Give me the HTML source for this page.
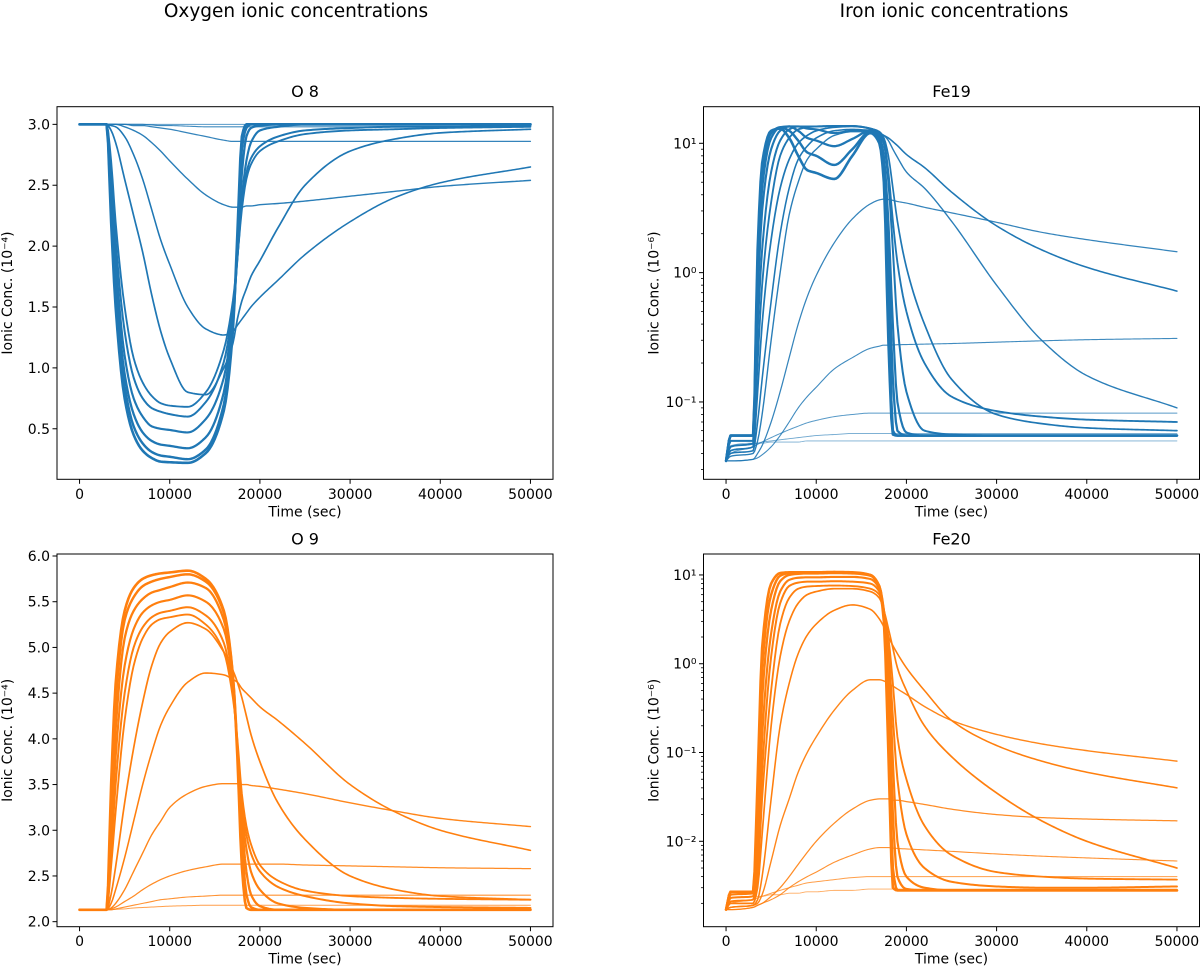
<!DOCTYPE html>
<html><head><meta charset="utf-8">
<style>
html,body{margin:0;padding:0;background:#fff;}
svg{display:block;font-family:"DejaVu Sans","Liberation Sans",sans-serif;}
</style></head>
<body>
<svg id="fig" width="1200" height="973" viewBox="0 0 1200 973" xmlns="http://www.w3.org/2000/svg">
<text x="296" y="17" font-size="18.5" text-anchor="middle">Oxygen ionic concentrations</text>
<text x="954" y="17" font-size="18.5" text-anchor="middle">Iron ionic concentrations</text>
</svg>
<script>
const T = [0,500,3000,3500,4000,5000,6000,7000,8000,9000,10000,12000,14000,16000,17000,17500,18000,18500,19000,20000,22000,25000,30000,35000,40000,50000];
const xTicks = [0,10000,20000,30000,40000,50000];
const o8Ticks = [0.5,1.0,1.5,2.0,2.5,3.0];
const o9Ticks = [2.0,2.5,3.0,3.5,4.0,4.5,5.0,5.5,6.0];
const fe19Ticks = [-1,0,1];
const fe20Ticks = [-2,-1,0,1];

const o8 = [
[3,3,3,2.2,1.5,0.75,0.45,0.32,0.26,0.23,0.225,0.22,0.3,0.65,1.3,2.1,2.9,3.0,3.0,3,3,3,3,3,3,3],
[3,3,3,2.3,1.6,0.85,0.52,0.38,0.31,0.28,0.27,0.25,0.33,0.7,1.35,2.0,2.8,2.97,3.0,3,3,3,3,3,3,3],
[3,3,3,2.4,1.75,0.95,0.62,0.47,0.4,0.37,0.36,0.34,0.43,0.8,1.4,1.95,2.6,2.9,2.97,2.99,3,3,3,3,3,3],
[3,3,3,2.5,1.9,1.1,0.75,0.6,0.52,0.5,0.49,0.47,0.58,0.92,1.45,1.9,2.4,2.7,2.85,2.95,2.98,3,3,3,3,3],
[3,3,3,2.6,2.05,1.3,0.92,0.75,0.67,0.64,0.62,0.6,0.72,1.05,1.5,1.9,2.35,2.6,2.72,2.82,2.9,2.95,2.97,2.98,2.98,2.99],
[3,3,3,2.7,2.2,1.5,1.08,0.88,0.77,0.71,0.69,0.68,0.8,1.15,1.55,1.9,2.3,2.55,2.67,2.78,2.86,2.92,2.95,2.96,2.97,2.98],
[3,3,3,2.95,2.85,2.55,2.25,1.95,1.6,1.3,1.08,0.8,0.78,1.0,1.2,1.4,1.55,1.65,1.75,1.88,2.15,2.5,2.78,2.88,2.93,2.96],
[3,3,3,2.99,2.98,2.9,2.75,2.55,2.3,2.05,1.85,1.5,1.32,1.27,1.3,1.35,1.4,1.45,1.5,1.58,1.72,1.93,2.2,2.4,2.52,2.65],
[3,3,3,3,3,2.98,2.95,2.91,2.85,2.78,2.7,2.55,2.42,2.34,2.32,2.32,2.32,2.33,2.33,2.34,2.35,2.37,2.41,2.45,2.49,2.54],
[3,3,3,3,3,3,2.99,2.99,2.98,2.97,2.96,2.93,2.9,2.87,2.86,2.86,2.86,2.86,2.86,2.86,2.86,2.86,2.86,2.86,2.86,2.86],
[3,3,3,3,3,3,3,3,2.995,2.99,2.99,2.985,2.98,2.98,2.98,2.98,2.98,2.98,2.98,2.98,2.98,2.98,2.98,2.98,2.98,2.98],
[3,3,3,3,3,3,3,3,3,3,3,3,3,3,3,3,3,3,3,3,3,3,3,3,3,3]
];
const o9 = [
[2.13,2.13,2.13,3.5,4.6,5.4,5.65,5.75,5.79,5.81,5.82,5.84,5.75,5.4,4.7,3.8,2.6,2.15,2.13,2.13,2.13,2.13,2.13,2.13,2.13,2.13],
[2.13,2.13,2.13,3.3,4.4,5.3,5.55,5.67,5.72,5.75,5.77,5.80,5.72,5.38,4.7,3.9,2.9,2.3,2.16,2.13,2.13,2.13,2.13,2.13,2.13,2.13],
[2.13,2.13,2.13,3.1,4.1,5.1,5.4,5.53,5.6,5.63,5.66,5.71,5.65,5.3,4.65,3.9,3.1,2.55,2.3,2.17,2.13,2.13,2.13,2.13,2.13,2.13],
[2.13,2.13,2.13,2.9,3.8,4.8,5.2,5.38,5.46,5.5,5.52,5.57,5.5,5.2,4.6,3.9,3.2,2.8,2.55,2.35,2.2,2.15,2.13,2.13,2.13,2.13],
[2.13,2.13,2.13,2.75,3.5,4.5,5.0,5.22,5.33,5.38,5.4,5.44,5.35,5.05,4.5,3.95,3.3,2.95,2.75,2.55,2.38,2.28,2.2,2.17,2.16,2.15],
[2.13,2.13,2.13,2.6,3.2,4.2,4.8,5.1,5.25,5.31,5.33,5.36,5.25,4.95,4.45,4.0,3.4,3.05,2.85,2.62,2.45,2.34,2.28,2.26,2.25,2.24],
[2.13,2.13,2.13,2.3,2.6,3.3,3.9,4.4,4.8,5.05,5.17,5.27,5.2,4.95,4.75,4.62,4.45,4.25,4.05,3.75,3.3,2.9,2.5,2.35,2.28,2.24],
[2.13,2.13,2.13,2.2,2.35,2.7,3.1,3.5,3.85,4.15,4.35,4.62,4.72,4.7,4.65,4.62,4.55,4.5,4.45,4.35,4.2,3.95,3.5,3.2,3.0,2.78],
[2.13,2.13,2.13,2.15,2.2,2.35,2.55,2.75,2.95,3.1,3.25,3.4,3.48,3.51,3.51,3.51,3.5,3.5,3.49,3.48,3.45,3.4,3.3,3.21,3.13,3.04],
[2.13,2.13,2.13,2.14,2.16,2.22,2.28,2.35,2.41,2.46,2.5,2.56,2.6,2.63,2.63,2.63,2.63,2.63,2.63,2.63,2.63,2.62,2.61,2.6,2.59,2.58],
[2.13,2.13,2.13,2.13,2.14,2.16,2.18,2.2,2.22,2.24,2.25,2.27,2.28,2.29,2.29,2.29,2.29,2.29,2.29,2.29,2.29,2.29,2.29,2.29,2.29,2.29],
[2.13,2.13,2.13,2.13,2.135,2.14,2.15,2.155,2.16,2.165,2.17,2.175,2.18,2.18,2.18,2.18,2.18,2.18,2.18,2.18,2.18,2.18,2.18,2.18,2.18,2.18]
];
const fe19 = [
[0.035,0.055,0.055,1.5,7,12.5,13,11,8,6.2,5.9,5.3,8,12,10,5,0.3,0.056,0.055,0.055,0.055,0.055,0.055,0.055,0.055,0.055],
[0.035,0.055,0.055,1.2,6,12,13.3,12.5,10.5,8.5,8,6.8,9,12.3,10.5,6,0.8,0.06,0.055,0.055,0.055,0.055,0.055,0.055,0.055,0.055],
[0.035,0.055,0.055,0.9,4.5,11,13.3,13.5,12.5,11,10.5,9.5,10.8,12.5,11,7,1.5,0.15,0.06,0.055,0.055,0.055,0.055,0.055,0.055,0.055],
[0.035,0.055,0.055,0.6,3,9,12.5,13.5,13.5,13,12.8,12,12.5,12.6,11.5,8,2.5,0.4,0.1,0.058,0.055,0.055,0.055,0.055,0.055,0.055],
[0.035,0.05,0.05,0.35,1.5,6,10.5,12.8,13.5,13.5,13.5,13.6,13.6,13,12,10,5,1.5,0.4,0.12,0.06,0.056,0.055,0.055,0.055,0.055],
[0.035,0.045,0.048,0.2,0.8,3.5,8,11,12.8,13.3,13.5,13.6,13.6,13,12,10.5,6,2.5,1.2,0.5,0.2,0.11,0.085,0.077,0.073,0.07],
[0.035,0.042,0.045,0.12,0.4,1.8,4.5,7.5,10,11.5,12.5,13.3,13.5,13,12.3,11,8,4.5,2.5,1.1,0.4,0.15,0.08,0.068,0.063,0.06],
[0.035,0.04,0.042,0.07,0.15,0.6,2,4.5,7.5,9.5,11,12.5,12.8,12.5,12,11.5,11,10.3,9.6,8.2,6.5,4.2,2.3,1.5,1.1,0.72],
[0.035,0.038,0.04,0.05,0.08,0.3,1,2.8,5,7.5,9,11.5,12.3,12.3,12,11.5,10.5,9,7.8,6,4.5,2.5,0.8,0.3,0.16,0.09],
[0.035,0.035,0.036,0.04,0.046,0.07,0.12,0.22,0.4,0.65,0.95,1.7,2.6,3.4,3.65,3.7,3.68,3.62,3.55,3.45,3.2,2.9,2.45,2.05,1.8,1.45],
[0.035,0.035,0.036,0.037,0.039,0.045,0.055,0.07,0.09,0.11,0.13,0.18,0.22,0.26,0.27,0.275,0.275,0.276,0.277,0.278,0.28,0.283,0.29,0.297,0.303,0.31],
[0.035,0.04,0.045,0.047,0.049,0.053,0.057,0.061,0.065,0.069,0.072,0.077,0.08,0.082,0.082,0.082,0.082,0.082,0.082,0.082,0.082,0.082,0.082,0.082,0.082,0.082],
[0.035,0.045,0.047,0.048,0.049,0.05,0.051,0.052,0.053,0.054,0.055,0.056,0.057,0.057,0.057,0.057,0.057,0.057,0.057,0.057,0.057,0.057,0.057,0.057,0.057,0.057],
[0.035,0.046,0.048,0.048,0.048,0.049,0.049,0.049,0.049,0.05,0.05,0.05,0.05,0.05,0.05,0.05,0.05,0.05,0.05,0.05,0.05,0.05,0.05,0.05,0.05,0.05]
];
const fe20 = [
[0.0017,0.0027,0.0027,0.05,1.5,8,10.5,10.7,10.7,10.7,10.7,10.8,10.7,10,7,3,0.1,0.003,0.0028,0.0028,0.0028,0.0028,0.0028,0.0028,0.0028,0.0028],
[0.0017,0.0027,0.0027,0.03,0.9,6,9.8,10.5,10.6,10.6,10.6,10.7,10.6,10,7.5,3.5,0.3,0.005,0.0028,0.0028,0.0028,0.0028,0.0028,0.0028,0.0028,0.0028],
[0.0017,0.0027,0.0027,0.015,0.4,4,8.5,10,10.3,10.4,10.4,10.5,10.4,9.8,7.5,4,0.8,0.02,0.004,0.0029,0.0028,0.0028,0.0028,0.0028,0.0028,0.0028],
[0.0017,0.0025,0.0026,0.008,0.15,2.2,6.5,8.8,9.3,9.4,9.4,9.5,9.5,9,7,4,1.2,0.08,0.01,0.004,0.003,0.0028,0.0028,0.0028,0.0028,0.0028],
[0.0017,0.0023,0.0024,0.005,0.06,1.2,4.8,7.5,8.2,8.4,8.4,8.5,8.4,8,6.5,4,1.5,0.25,0.05,0.012,0.005,0.0035,0.0031,0.003,0.003,0.0031],
[0.0017,0.0021,0.0022,0.004,0.03,0.5,2.8,5.5,7,7.4,7.5,7.6,7.5,7,6,4,2,0.6,0.15,0.05,0.015,0.007,0.0045,0.004,0.0038,0.0037],
[0.0017,0.002,0.002,0.003,0.012,0.2,1.2,3,4.8,6,6.5,7,7,6.5,5.5,4,2.5,1.5,0.9,0.5,0.2,0.09,0.035,0.017,0.01,0.005],
[0.0017,0.0018,0.0019,0.0022,0.004,0.03,0.2,0.6,1.3,2.1,2.8,4,4.6,4.1,3.2,2.6,2.0,1.6,1.3,0.9,0.5,0.23,0.12,0.08,0.06,0.04],
[0.0017,0.0018,0.0019,0.002,0.0025,0.006,0.015,0.03,0.06,0.1,0.15,0.3,0.5,0.66,0.66,0.64,0.6,0.56,0.52,0.45,0.33,0.23,0.16,0.125,0.105,0.08],
[0.0017,0.0017,0.0018,0.0019,0.002,0.0024,0.003,0.004,0.0055,0.0075,0.01,0.016,0.023,0.029,0.03,0.03,0.03,0.029,0.029,0.028,0.026,0.023,0.02,0.0185,0.0178,0.017],
[0.0017,0.0017,0.0018,0.0019,0.002,0.0022,0.0025,0.003,0.0035,0.004,0.0045,0.0058,0.007,0.0082,0.0085,0.0085,0.0085,0.0084,0.0083,0.0082,0.008,0.0077,0.0072,0.0068,0.0065,0.006],
[0.0017,0.002,0.0022,0.0023,0.0024,0.0026,0.0028,0.003,0.0032,0.0034,0.0035,0.0037,0.0039,0.004,0.004,0.004,0.004,0.004,0.004,0.004,0.004,0.004,0.004,0.004,0.004,0.004],
[0.0017,0.0023,0.0024,0.0024,0.0024,0.0025,0.0025,0.0026,0.0026,0.0027,0.0027,0.0028,0.0028,0.0029,0.0029,0.0029,0.0029,0.0029,0.0029,0.0029,0.0029,0.0029,0.0029,0.0029,0.0029,0.0029]
];

const NS = "http://www.w3.org/2000/svg";
const svg = document.getElementById('fig');
function mk(tag, attrs, parent){
  const e = document.createElementNS(NS, tag);
  for (const k in attrs) e.setAttribute(k, attrs[k]);
  (parent||svg).appendChild(e);
  return e;
}
// monotone cubic (Fritsch-Carlson) sampling in pixel space
function smoothPoints(px, py){
  const n = px.length, d = [], m = new Array(n).fill(0);
  for (let i = 0; i < n-1; i++) d.push((py[i+1]-py[i])/(px[i+1]-px[i]));
  m[0] = d[0]; m[n-1] = d[n-2];
  for (let i = 1; i < n-1; i++) {
    if (d[i-1]*d[i] <= 0) m[i] = 0;
    else { const w1 = 2*(px[i+1]-px[i]) + (px[i]-px[i-1]), w2 = (px[i+1]-px[i]) + 2*(px[i]-px[i-1]);
      m[i] = (w1+w2)/(w1/d[i-1] + w2/d[i]); }
  }
  const out = [];
  for (let i = 0; i < n-1; i++) {
    const h = px[i+1]-px[i], steps = Math.max(2, Math.ceil(h/2));
    for (let s = 0; s < steps; s++) {
      const t = s/steps, t2 = t*t, t3 = t2*t;
      const y = (2*t3-3*t2+1)*py[i] + (t3-2*t2+t)*h*m[i] + (-2*t3+3*t2)*py[i+1] + (t3-t2)*h*m[i+1];
      out.push((px[i]+t*h).toFixed(2) + ',' + y.toFixed(2));
    }
  }
  out.push(px[n-1].toFixed(2) + ',' + py[n-1].toFixed(2));
  return out.join(' ');
}
const panels = [
  {key:'o8', title:'O 8', data:o8, color:'#1f77b4', x0:57, x1:553, y0:106.7, y1:479.3, log:false, lo:0.085, hi:3.145, ticks:o8Ticks, exp:'\u207B\u2074'},
  {key:'fe19', title:'Fe19', data:fe19, color:'#1f77b4', x0:703.5, x1:1199.5, y0:106.7, y1:479.3, log:true, lo:-1.598, hi:1.283, ticks:fe19Ticks, exp:'\u207B\u2076'},
  {key:'o9', title:'O 9', data:o9, color:'#ff7f0e', x0:57, x1:553, y0:554, y1:926.7, log:false, lo:1.945, hi:6.022, ticks:o9Ticks, exp:'\u207B\u2074'},
  {key:'fe20', title:'Fe20', data:fe20, color:'#ff7f0e', x0:703.5, x1:1199.5, y0:554, y1:926.7, log:true, lo:-2.962, hi:1.236, ticks:fe20Ticks, exp:'\u207B\u2076'}
];
const supMap = {'-':'\u207B','0':'\u2070','1':'\u00B9','2':'\u00B2','3':'\u00B3'};
const widths = [2.6,2.45,2.3,2.15,2.0,1.85,1.7,1.55,1.4,1.25,1.1,1.0,0.9,0.85];
const alphas = [1,1,1,1,1,1,1,1,0.95,0.9,0.85,0.75,0.65,0.6];

panels.forEach(p => {
  const g = mk('g', {});
  
  
  const xs = v => p.x0 + (v + 2500) / 55000 * (p.x1 - p.x0);
  const ys = v => {
    const u = p.log ? Math.log10(v) : v;
    return p.y1 - (u - p.lo) / (p.hi - p.lo) * (p.y1 - p.y0);
  };
  const cx = (p.x0 + p.x1) / 2;
  const t = mk('text', {x:cx, y:p.y0 - 9.5, 'font-size':16, 'text-anchor':'middle'}, g);
  
  
  t.textContent = p.title;
  const clipId = 'clip-' + p.key;
  const cp = mk('clipPath', {id:clipId}, g);
  mk('rect', {x:p.x0, y:p.y0, width:p.x1-p.x0, height:p.y1-p.y0}, cp);
  const sg = mk('g', {'clip-path':'url(#' + clipId + ')'}, g);
  p.data.forEach((ser, i) => {
    const px = T.map(v => xs(v));
    const py = ser.map(v => ys(v));
    const pl = mk('polyline', {points:smoothPoints(px, py), fill:'none', stroke:p.color, 'stroke-width':widths[i], 'stroke-opacity':alphas[i], 'stroke-linejoin':'round', 'stroke-linecap':'round'}, sg);
    
    
  });
  const fr = mk('rect', {x:p.x0, y:p.y0, width:p.x1-p.x0, height:p.y1-p.y0, fill:'none', stroke:'#000', 'stroke-width':1}, g);
  
  
  xTicks.forEach(v => {
    const x = xs(v);
    mk('line', {x1:x, x2:x, y1:p.y1, y2:p.y1+4.5, stroke:'#000', 'stroke-width':1}, g);
    const tl = mk('text', {x:x, y:p.y1+19.5, 'font-size':14, 'text-anchor':'middle'}, g);
    
    
    tl.textContent = String(v);
  });
  const xl = mk('text', {x:cx, y:p.y1+37, 'font-size':14, 'text-anchor':'middle'}, g);
  
  
  xl.textContent = 'Time (sec)';
  if (!p.log) {
    p.ticks.forEach(v => {
      const y = ys(v);
      mk('line', {x1:p.x0-4.5, x2:p.x0, y1:y, y2:y, stroke:'#000', 'stroke-width':1}, g);
      const tl = mk('text', {x:p.x0-7, y:y+5, 'font-size':14, 'text-anchor':'end'}, g);
      
      
      tl.textContent = v.toFixed(1);
    });
  } else {
    for (let d = Math.floor(p.lo); d <= Math.ceil(p.hi); d++) {
      for (let m = 2; m <= 9; m++) {
        const u = d + Math.log10(m);
        if (u < p.lo || u > p.hi) continue;
        const y = ys(Math.pow(10, u));
        mk('line', {x1:p.x0-2.5, x2:p.x0, y1:y, y2:y, stroke:'#000', 'stroke-width':0.8}, g);
      }
    }
    p.ticks.forEach(e => {
      const y = ys(Math.pow(10, e));
      mk('line', {x1:p.x0-4.5, x2:p.x0, y1:y, y2:y, stroke:'#000', 'stroke-width':1}, g);
      const tl = mk('text', {x:p.x0-7, y:y+5, 'font-size':14, 'text-anchor':'end'}, g);
      
      
      tl.textContent = '10' + String(e).split('').map(c => supMap[c]).join('');
    });
  }
  const yl = mk('text', {x:0, y:0, 'font-size':14, 'text-anchor':'middle', transform:'translate(' + (p.x0-45) + ',' + ((p.y0+p.y1)/2) + ') rotate(-90)'}, g);
  
  
  yl.textContent = 'Ionic Conc. (10' + p.exp + ')';
});
</script>
</body></html>
